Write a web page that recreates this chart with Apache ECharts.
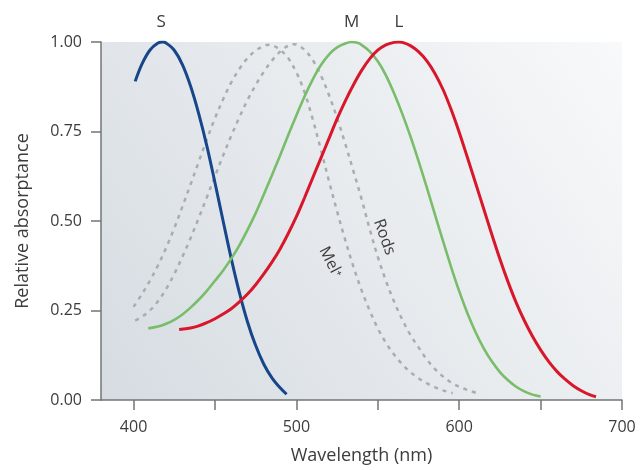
<!DOCTYPE html>
<html><head><meta charset="utf-8">
<script src="https://cdn.jsdelivr.net/npm/echarts@6/dist/echarts.min.js"></script>
<style>html,body{margin:0;padding:0;background:#fff}#c{width:642px;height:470px}</style>
</head><body><div id="c"></div><script>
// ---- data ----
var sWl  = [401,405,410,415,418,420,425,430,435,440,445,450,455,460,465,470,475,480,485,490,494];
var sVal = [0.89,0.937,0.977,0.997,1.0,0.997,0.977,0.937,0.877,0.8,0.71,0.607,0.5,0.395,0.3,0.218,0.152,0.1,0.062,0.034,0.016];

var mWl  = [409,415,420,425,430,435,440,445,450,455,460,465,470,475,480,485,490,495,500,505,510,515,520,525,530,534,538,540,545,550,555,560,565,570,575,580,585,590,595,600,605,610,615,620,625,630,635,640,645,650];
var mVal = [0.2,0.205,0.213,0.224,0.239,0.258,0.28,0.305,0.333,0.362,0.395,0.432,0.475,0.522,0.574,0.628,0.683,0.74,0.795,0.848,0.895,0.935,0.965,0.985,0.996,1.0,0.997,0.992,0.974,0.946,0.907,0.857,0.8,0.737,0.668,0.595,0.52,0.445,0.372,0.304,0.243,0.19,0.145,0.108,0.078,0.055,0.037,0.024,0.015,0.01];

var lWl  = [428,435,440,445,450,455,460,465,470,475,480,485,490,495,500,505,510,515,520,525,530,535,540,545,550,555,560,563,565,570,575,580,585,590,595,600,605,610,615,620,625,630,635,640,645,650,655,660,665,670,675,680,684];
var lVal = [0.197,0.201,0.207,0.216,0.227,0.24,0.255,0.274,0.296,0.322,0.352,0.385,0.422,0.465,0.512,0.565,0.62,0.675,0.73,0.785,0.835,0.88,0.92,0.953,0.977,0.992,0.999,1.0,0.999,0.99,0.973,0.948,0.913,0.868,0.812,0.748,0.678,0.607,0.535,0.463,0.394,0.33,0.272,0.222,0.178,0.14,0.107,0.08,0.058,0.04,0.026,0.015,0.009];

var melWl  = [400,405,410,415,420,425,430,435,440,445,450,455,460,465,470,475,480,483,485,490,495,500,505,510,515,520,525,530,535,540,545,550,555,560,565,570,575,580,585,590,596];
var melVal = [0.26,0.295,0.333,0.376,0.425,0.48,0.54,0.602,0.665,0.728,0.787,0.84,0.887,0.925,0.955,0.976,0.989,0.992,0.991,0.978,0.955,0.915,0.86,0.785,0.7,0.612,0.527,0.447,0.373,0.307,0.25,0.2,0.16,0.127,0.1,0.078,0.061,0.047,0.036,0.027,0.019];

var rodWl  = [401,405,410,415,420,425,430,435,440,445,450,455,460,465,470,475,480,485,490,495,498,500,505,510,515,520,525,530,535,540,545,550,555,560,565,570,575,580,585,590,595,600,605,611];
var rodVal = [0.222,0.232,0.25,0.276,0.31,0.352,0.4,0.452,0.508,0.566,0.625,0.683,0.738,0.79,0.838,0.88,0.917,0.948,0.973,0.99,0.994,0.993,0.978,0.95,0.907,0.852,0.788,0.716,0.64,0.562,0.478,0.4,0.333,0.275,0.225,0.182,0.147,0.114,0.087,0.066,0.049,0.037,0.028,0.019];

var xTicks  = [400,450,500,550,600,650,700];
var xLabels = [400,500,600,700];
var peakNames = ['S','M','L'];
var peakWl    = [417,534,563];
var rodsLabelPos = [554,0.455];
var melLabelPos  = [521,0.385];

function pairs(x, y){ return x.map(function(v,i){ return [v, y[i]]; }); }

var FONT = '"Open Sans", "Noto Sans", sans-serif';
var TXT = '#3c3c3c';
var SMOOTH = 0.35;

var chart = echarts.init(document.getElementById('c'), null, {renderer:'canvas'});

function peakMark(i){
  return {
    symbol:'circle', symbolSize:0, silent:true,
    data:[{coord:[peakWl[i],1], value:peakNames[i]}],
    label:{show:true, position:'inside', offset:[0,-20], formatter:peakNames[i],
           fontSize:17, color:TXT, fontFamily:FONT}
  };
}

var option = {
  animation:false,
  backgroundColor:'#ffffff',
  grid:{left:101, right:20, top:42, bottom:70, show:true, borderWidth:0,
        backgroundColor:new echarts.graphic.LinearGradient(0,1,1,0,[
          {offset:0, color:'#d6dce2'},
          {offset:0.6, color:'#eaedf0'},
          {offset:1, color:'#f8f9fa'}])},
  xAxis:{
    type:'value', min:380, max:700, interval:10,
    name:'Wavelength (nm)', nameLocation:'middle', nameGap:47,
    nameTextStyle:{fontSize:18, color:TXT, fontFamily:FONT},
    axisLine:{show:true, lineStyle:{color:'#747474', width:1.5}},
    axisTick:{show:true, inside:false, length:10, customValues:xTicks, lineStyle:{color:'#747474', width:1.5}},
    axisLabel:{customValues:xLabels, margin:19, fontSize:16, color:TXT, fontFamily:FONT},
    splitLine:{show:false}
  },
  yAxis:{
    type:'value', min:0, max:1, interval:0.25,
    name:'Relative absorptance', nameLocation:'middle', nameGap:69,
    nameTextStyle:{fontSize:18, color:TXT, fontFamily:FONT},
    axisLine:{show:true, lineStyle:{color:'#747474', width:1.5}},
    axisTick:{show:true, inside:false, length:10, lineStyle:{color:'#747474', width:1.5}},
    axisLabel:{margin:19, fontSize:16, color:TXT, fontFamily:FONT,
               formatter:function(v){ return v.toFixed(2); }},
    splitLine:{show:false}
  },
  series:[
    {type:'line', name:'Mel', data:pairs(melWl, melVal), smooth:SMOOTH, showSymbol:false,
     lineStyle:{color:'#a9adb2', width:2.5, type:[4,5]},
     markPoint:{symbol:'circle', symbolSize:0, silent:true,
       data:[{coord:melLabelPos}],
       label:{show:true, position:'inside', formatter:'Mel⁺', rotate:-63,
              fontSize:16, color:TXT, fontFamily:FONT}}},
    {type:'line', name:'Rods', data:pairs(rodWl, rodVal), smooth:SMOOTH, showSymbol:false,
     lineStyle:{color:'#a9adb2', width:2.5, type:[4,5]},
     markPoint:{symbol:'circle', symbolSize:0, silent:true,
       data:[{coord:rodsLabelPos}],
       label:{show:true, position:'inside', formatter:'Rods', rotate:-70,
              fontSize:16, color:TXT, fontFamily:FONT}}},
    {type:'line', name:'S', data:pairs(sWl, sVal), smooth:SMOOTH, showSymbol:false,
     lineStyle:{color:'#17468a', width:3}, markPoint:peakMark(0)},
    {type:'line', name:'M', data:pairs(mWl, mVal), smooth:SMOOTH, showSymbol:false,
     lineStyle:{color:'#78bd6a', width:2.6}, markPoint:peakMark(1)},
    {type:'line', name:'L', data:pairs(lWl, lVal), smooth:SMOOTH, showSymbol:false,
     lineStyle:{color:'#d8172b', width:3}, markPoint:peakMark(2)}
  ]
};
chart.setOption(option);
</script></body></html>
